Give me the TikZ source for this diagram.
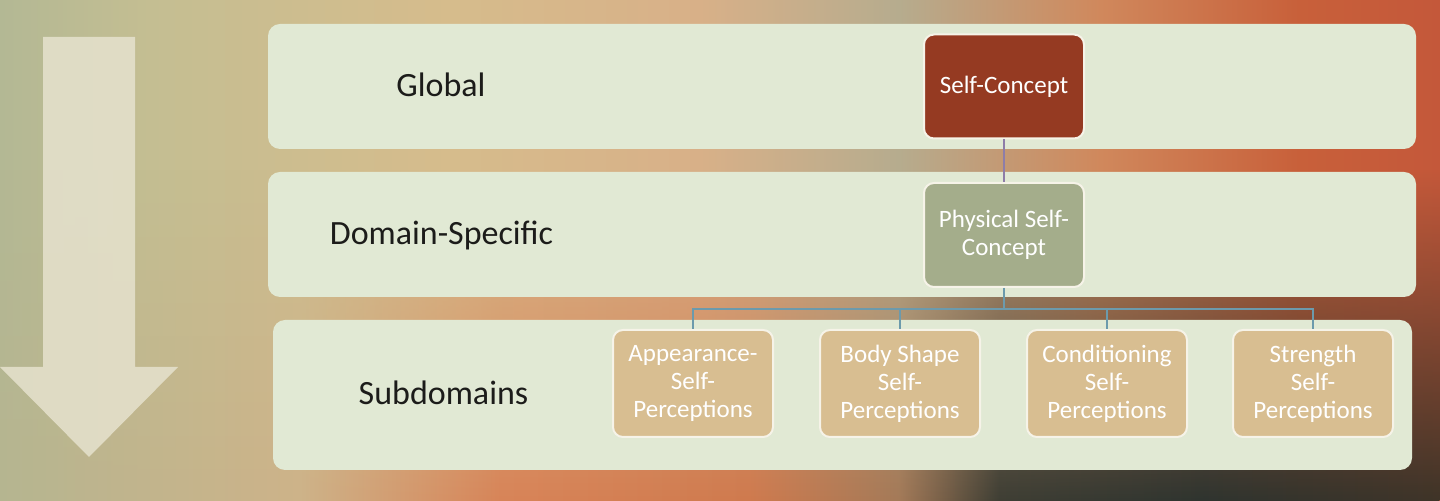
\documentclass[tikz,border=0pt]{standalone}
\usepackage{fontspec}
\setmainfont{Carlito}
\usetikzlibrary{positioning}
\usetikzlibrary{fadings}

\definecolor{bandgreen}{HTML}{E1E9D4}
\definecolor{labelblack}{HTML}{1C1C1A}
\definecolor{selfred}{HTML}{953A22}
\definecolor{physgreen}{HTML}{A4AD8B}
\definecolor{subtan}{HTML}{D8BE91}
\definecolor{boxedge}{HTML}{F6F3E8}
\definecolor{linkpurple}{HTML}{8E7DA8}
\definecolor{linkteal}{HTML}{6C9AAC}
\definecolor{arrowcream}{HTML}{E6E2CE}

% background colours
\definecolor{tA}{HTML}{B3B894}
\definecolor{tB}{HTML}{C4BE92}
\definecolor{tC}{HTML}{D6BC8C}
\definecolor{tD}{HTML}{D8B088}
\definecolor{tE}{HTML}{B6AC8E}
\definecolor{tF}{HTML}{D0885C}
\definecolor{tG}{HTML}{C8603A}
\definecolor{tH}{HTML}{C4583A}
\definecolor{bA}{HTML}{B6B590}
\definecolor{bB}{HTML}{CDB389}
\definecolor{bC}{HTML}{D88458}
\definecolor{bD}{HTML}{CF7A4E}
\definecolor{bE}{HTML}{A47A58}
\definecolor{bF}{HTML}{3E3E34}
\definecolor{bG}{HTML}{2E342F}
\definecolor{bH}{HTML}{3E3428}

% background, left to right (25bp..75bp cover the picture)
\pgfdeclarehorizontalshading{bgtop}{100bp}{%
  color(0bp)=(tA); color(25bp)=(tA);
  color(30.2bp)=(tB); color(40.6bp)=(tC);
  color(49.3bp)=(tD); color(56.2bp)=(tE);
  color(63.2bp)=(tF); color(70.1bp)=(tG);
  color(75bp)=(tH); color(100bp)=(tH)}
\pgfdeclarehorizontalshading{bgbot}{100bp}{%
  color(0bp)=(bA); color(25bp)=(bA);
  color(35.4bp)=(bB); color(42.4bp)=(bC);
  color(51bp)=(bD); color(56.2bp)=(bE);
  color(59.7bp)=(bF); color(66.7bp)=(bG);
  color(75bp)=(bH); color(100bp)=(bH)}

\tikzset{
  band/.style={fill=bandgreen, rounded corners=6pt, inner sep=0pt},
  level/.style={anchor=base, text=labelblack, font=\fontsize{17}{20}\selectfont},
  box/.style={draw=boxedge, line width=1pt, rounded corners=5pt,
    minimum width=80pt, minimum height=52pt, inner sep=0pt,
    align=center, text=white, font=\fontsize{12.5}{14}\selectfont},
  subbox/.style={box, fill=subtan, minimum height=53.5pt},
  link/.style={line width=1pt}
}

\begin{document}
\begin{tikzpicture}[x=0.5pt, y=-0.5pt]

\useasboundingbox (0,0) rectangle (1440,501);

% background
\shade[shading=bgtop] (0,0) rectangle (1440,501);
\shade[shading=bgbot, path fading=north] (0,170) rectangle (1440,501);

% arrow
\fill[arrowcream, opacity=.85] (43,37) -- (135,37) -- (135,367) -- (178,367)
  -- (89,457) -- (0,367) -- (43,367) -- cycle;

% bands
\node[band, minimum width=574pt, minimum height=62.5pt] (globalband) at (842,86.5) {};
\node[band, minimum width=574pt, minimum height=62.5pt] (domainband) at (842,234.5) {};
\node[band, minimum width=569.5pt, minimum height=75pt] (subband) at (842.5,395) {};

\node[level] (global) at (441,97) {Global};
\node[level] (domain) at (441.5,245) {Domain-Specific};
\node[level] (subdom) at (443.5,405) {Subdomains};

% hierarchy
\node[box, fill=selfred] (self) at (1004,86.5) {Self-Concept};
\node[box, fill=physgreen] (physical) at (1004,235) {Physical Self-\\Concept};

\node[subbox] (appear) at (693,383.5) {Appearance-\\Self-\\Perceptions};
\node[subbox] (body) at (900,383.5) {Body Shape\\Self-\\Perceptions};
\node[subbox] (cond) at (1107,383.5) {Conditioning\\Self-\\Perceptions};
\node[subbox] (strength) at (1313,383.5) {Strength\\Self-\\Perceptions};

\draw[link, linkpurple] (self) -- (physical);

\coordinate (bus) at (1004,309);
\draw[link, linkteal] (physical) -- (bus);
\foreach \c in {appear,body,cond,strength}
  \draw[link, linkteal] (bus) -| (\c.north);

\end{tikzpicture}
\end{document}
